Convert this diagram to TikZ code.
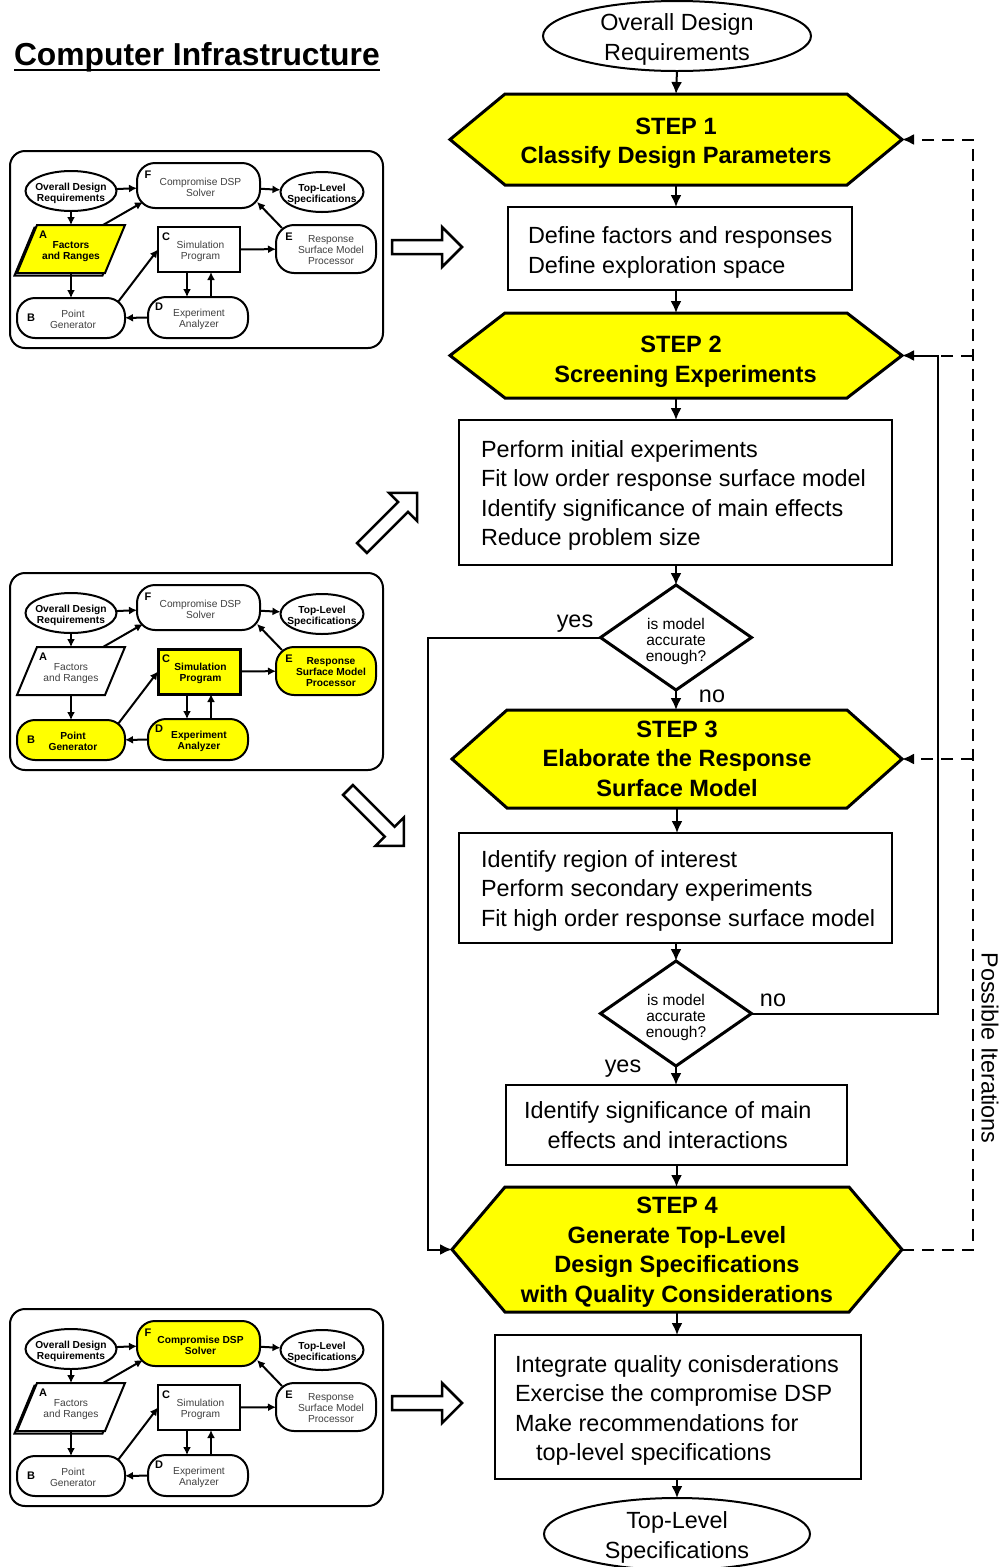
\documentclass[tikz,border=0pt]{standalone}
\usepackage{fontspec}
\setmainfont{Liberation Sans}
\usetikzlibrary{arrows.meta,calc,backgrounds}
\pgfdeclarelayer{paper}
\pgfsetlayers{paper,background,main}

\definecolor{stepyellow}{RGB}{255,255,0}

% font sizes (1pt = one unit of the drawing grid)
\newcommand\ftbody{\fontsize{23.4}{29.5}\selectfont}
\newcommand\fthex{\fontsize{23.6}{29.5}\selectfont\bfseries}
\newcommand\ftdia{\fontsize{15.5}{16}\selectfont}
\newcommand\ftmini{\fontsize{10.2}{11}\selectfont}
\newcommand\ftlbl{\fontsize{11}{11}\selectfont\bfseries}
\newcommand\fttitle{\fontsize{31.8}{36}\selectfont\bfseries}

% centred lines, lowered by #1 without changing the box extent
\newcommand\ctext[2]{\raisebox{-#1pt}[\height][\depth]{\begin{tabular}{@{}c@{}}#2\end{tabular}}}
% left-aligned lines in a box of width #1 with left pad #2, lowered by #3
\newcommand\ltext[4]{\makebox[#1pt][l]{\hspace*{#2pt}\raisebox{-#3pt}[\height][\depth]{\begin{tabular}{@{}l@{}}#4\end{tabular}}}}

% outline shapes drawn behind the named nodes
\newcommand\hexshape[2]{\draw[hexline] (#1.west) -- ($(#1.north west)+(#2,0)$) -- ($(#1.north east)+(-#2,0)$) -- (#1.east) -- ($(#1.south east)+(-#2,0)$) -- ($(#1.south west)+(#2,0)$) -- cycle;}
\newcommand\diashape[1]{\draw[dialine] (#1.west) -- (#1.north) -- (#1.east) -- (#1.south) -- cycle;}

% hollow block arrow: x, y of the tail centre, angle, length
\newcommand\hollowarrow[4]{\draw[hollow, shift={(#1,#2)}, rotate=#3] (0,-7) -- ({#4-20},-7) -- ({#4-20},-20) -- (#4,0) -- ({#4-20},20) -- ({#4-20},7) -- (0,7) -- cycle;}

% small infrastructure diagram: top y, name prefix, A text, A outline, B, C, D, E, F
\newcommand\infra[9]{%
  \draw[mframe] (10,#1) rectangle (383,{#1+197});
  \node[mnode,mbold,minimum width=91pt,minimum height=40pt] (#2odr) at (71,{#1+40}) {\ctext{2.5}{Overall Design\\Requirements}};
  \node[mround,#9,minimum width=123pt,minimum height=45pt] (#2F) at (198.5,{#1+34.5}) {\hspace{4pt}\ctext{3}{Compromise DSP\\Solver}};
  \node[mnode,mbold,minimum width=83pt,minimum height=40pt] (#2tls) at (322,{#1+41}) {\ctext{2.5}{Top-Level\\Specifications}};
  \node[mnode,#3,minimum width=108pt,minimum height=48pt] (#2A) at (71,{#1+98}) {\ctext{2.5}{Factors\\and Ranges}};
  \node[mround,#5,minimum width=108pt,minimum height=40pt] (#2B) at (71,{#1+167}) {\hspace{4pt}\ctext{2.5}{Point\\Generator}};
  \node[mrect,#6,minimum width=82pt,minimum height=45pt] (#2C) at (199,{#1+98.5}) {\hspace{3pt}\ctext{2.5}{Simulation\\Program}};
  \node[mround,#7,minimum width=100pt,minimum height=41pt] (#2D) at (198,{#1+166.5}) {\hspace{2pt}\ctext{2.5}{Experiment\\Analyzer}};
  \node[mround,#8,minimum width=100pt,minimum height=48pt] (#2E) at (326,{#1+98}) {\hspace{10pt}\ctext{2}{Response\\Surface Model\\Processor}};
  \node[mlbl] (#2lA) at ($(#2A.north west)+(26,10)$) {A};
  \node[mlbl] (#2lB) at ($(#2B.north west)+(14,20)$) {B};
  \node[mlbl] (#2lC) at ($(#2C.north west)+(8,10)$) {C};
  \node[mlbl] (#2lD) at ($(#2D.north west)+(11,10)$) {D};
  \node[mlbl] (#2lE) at ($(#2E.north west)+(13,12)$) {E};
  \node[mlbl] (#2lF) at ($(#2F.north west)+(11,12)$) {F};
  \begin{pgfonlayer}{background}
    \draw[mline,fill=white] (#2odr.center) ellipse [x radius=45.5pt, y radius=20pt];
    \draw[mline,fill=white] (#2tls.center) ellipse [x radius=41.5pt, y radius=20pt];
    \draw[mline,#4] (#2A.south west) -- ($(#2A.north west)+(20,0)$) -- (#2A.north east) -- ($(#2A.south east)+(-20,0)$) -- cycle;
  \end{pgfonlayer}
  \draw[marr] (#2odr) -- (#2F);
  \draw[marr] (#2F) -- (#2tls);
  \draw[marr] (#2odr.south) -- (#2A.north);
  \draw[marr] ($(#2A.north)+(32,0)$) -- ($(#2F.south west)+(6,-6)$);
  \draw[marr] (#2A.south) -- (#2B.north);
  \draw[marr] ($(#2B.north east)+(-7,4)$) -- (#2C.west);
  \draw[marr] (#2C) -- (#2E);
  \draw[marr] ($(#2E.north west)+(6,3)$) -- ($(#2F.south east)+(-3,-6)$);
  \draw[marr] ($(#2C.south)+(-12,0)$) -- ($(#2D.north)+(-11,0)$);
  \draw[marr] ($(#2D.north)+(13,0)$) -- ($(#2C.south)+(12,0)$);
  \draw[marr] (#2D) -- (#2B);
}

\begin{document}
\begin{tikzpicture}[x=1pt, y=-1pt,
  every node/.style={inner sep=0pt, outer sep=0pt},
  arr/.style={line width=2pt, -{Latex[length=12pt,width=11pt]}},
  dline/.style={line width=2pt, dash pattern=on 12pt off 8pt},
  darr/.style={dline, -{Latex[length=12pt,width=11pt]}},
  hexnode/.style={font=\fthex},
  hexline/.style={draw, line width=3pt, fill=stepyellow, line join=miter},
  stepbox/.style={draw, line width=2pt, fill=white, font=\ftbody},
  ovalnode/.style={font=\ftbody},
  ovalline/.style={draw, line width=2pt, fill=white},
  dianode/.style={font=\ftdia},
  dialine/.style={draw, line width=3pt, fill=white, line join=miter},
  tag/.style={font=\ftbody},
  hollow/.style={draw, line width=2.5pt, fill=white, line join=miter},
  mframe/.style={draw, line width=2pt, rounded corners=15pt},
  mline/.style={draw, line width=2pt},
  mnode/.style={font=\ftmini, text=black!75},
  mbold/.style={font=\ftmini\bfseries, text=black},
  mhl/.style={fill=stepyellow, font=\ftmini\bfseries, text=black},
  mpl/.style={fill=white},
  mround/.style={mnode, draw, line width=2pt, rounded corners=18pt},
  mrect/.style={mnode, draw, line width=2pt},
  mlbl/.style={font=\ftlbl},
  marr/.style={line width=2pt, -{Latex[length=8pt,width=8pt]}},
  stack/.style={preaction={draw, line width=2pt, fill=white, transform canvas={shift={(-2.5pt,-2.5pt)}}}},
]
\useasboundingbox (0,0) rectangle (1005,1567);
\begin{pgfonlayer}{paper}
  \fill[white] (0,0) rectangle (1005,1567);
\end{pgfonlayer}

% ---------- title ----------
\node[font=\fttitle, anchor=base west] (title) at (14,65) {Computer Infrastructure};
\draw[line width=2.5pt] ($(title.base west)+(0,5)$) -- ($(title.base east)+(0,5)$);

% ---------- main flow ----------
\node[ovalnode, minimum width=268pt, minimum height=70pt] (odr) at (677,36)
  {\ctext{3.5}{Overall Design\\Requirements}};
\node[hexnode, minimum width=452pt, minimum height=91pt] (s1) at (676,139.5)
  {\ctext{3.5}{STEP 1\\Classify Design Parameters}};
\node[stepbox, minimum width=344pt, minimum height=83pt] (b1) at (680,248.5)
  {\ltext{344}{20}{4}{Define factors and responses\\Define exploration space}};
\node[hexnode, minimum width=452pt, minimum height=85pt] (s2) at (676,355.5)
  {\ctext{6}{\hspace*{10pt}STEP 2\\\hspace*{19pt}Screening Experiments}};
\node[stepbox, minimum width=433pt, minimum height=145pt] (b2) at (675.5,492.5)
  {\ltext{433}{22}{3}{Perform initial experiments\\Fit low order response surface model\\Identify significance of main effects\\Reduce problem size}};
\node[dianode, minimum width=151pt, minimum height=105pt] (d1) at (676,637.5)
  {\ctext{4.5}{is model\\accurate\\enough?}};
\node[hexnode, minimum width=450pt, minimum height=98pt] (s3) at (677,759)
  {\ctext{2}{STEP 3\\Elaborate the Response\\Surface Model}};
\node[stepbox, minimum width=433pt, minimum height=110pt] (b3) at (675.5,888)
  {\ltext{433}{22}{3}{Identify region of interest\\Perform secondary experiments\\Fit high order response surface model}};
\node[dianode, minimum width=151pt, minimum height=105pt] (d2) at (676,1013.5)
  {\ctext{4.5}{is model\\accurate\\enough?}};
\node[stepbox, minimum width=341pt, minimum height=80pt] (b4) at (676.5,1125)
  {\makebox[341pt][l]{\hspace*{18pt}\ctext{2.5}{Identify significance of main\\effects and interactions}}};
\node[hexnode, minimum width=450pt, minimum height=125pt] (s4) at (677,1249.5)
  {\ctext{2.5}{STEP 4\\Generate Top-Level\\Design Specifications\\with Quality Considerations}};
\node[stepbox, minimum width=366pt, minimum height=144pt] (b5) at (678,1407)
  {\ltext{366}{20}{3.5}{Integrate quality conisderations\\Exercise the compromise DSP\\Make recommendations for\\\hspace*{21pt}top-level specifications}};
\node[ovalnode, minimum width=266pt, minimum height=72pt] (tls) at (677,1534)
  {\ctext{3.5}{Top-Level\\Specifications}};

\begin{pgfonlayer}{background}
  \draw[ovalline] (odr.center) ellipse [x radius=134pt, y radius=35pt];
  \draw[ovalline] (tls.center) ellipse [x radius=133pt, y radius=36pt];
  \hexshape{s1}{55}
  \hexshape{s2}{55}
  \hexshape{s3}{55}
  \hexshape{s4}{53}
  \diashape{d1}
  \diashape{d2}
\end{pgfonlayer}

% straight connectors
\draw[arr] (odr.south) -- (s1.north);
\draw[arr] (s1.south) -- (s1.south |- b1.north);
\draw[arr] (s2.north |- b1.south) -- (s2.north);
\draw[arr] (s2.south) -- (s2.south |- b2.north);
\draw[arr] (d1.north |- b2.south) -- (d1.north);
\draw[arr] (d1.south) -- (d1.south |- s3.north);
\draw[arr] (s3.south) -- (s3.south |- b3.north);
\draw[arr] (d2.north |- b3.south) -- (d2.north);
\draw[arr] (d2.south) -- (d2.south |- b4.north);
\draw[arr] (b4.south) -- (b4.south |- s4.north);
\draw[arr] (s4.south) -- (s4.south |- b5.north);
\draw[arr] (tls.north |- b5.south) -- (tls.north);

% decision branches
\coordinate (lrail) at (428,638);
\coordinate (rrail) at (938,355);
\draw[arr] (d1.west) -- (d1.west -| lrail) -- (s4.west -| lrail) -- (s4.west);
\draw[arr] (d2.east) -- (d2.east -| rrail) -- (s2.east -| rrail) -- (s2.east);
\node[tag] (yes1) at (575,624) {yes};
\node[tag] (no1) at (712,696) {no};
\node[tag] (no2) at (773,1000) {no};
\node[tag] (yes2) at (623,1069) {yes};

% iteration loop
\coordinate (drail) at (973,139);
\draw[darr] (s4.east) -- (s4.east -| drail) -- (s1.east -| drail) -- (s1.east);
\draw[dline] (s2.east -| drail) -- (s2.east -| rrail);
\draw[darr] (s3.east -| drail) -- (s3.east);
\node[tag, rotate=-90] (iter) at (990,1048) {Possible Iterations};

% ---------- infrastructure diagrams ----------
\infra{151}{p}{mbold}{fill=stepyellow,stack}{mpl}{mpl}{mpl}{mpl}{mpl}
\infra{573}{q}{}{fill=white}{mhl}{mhl,line width=3pt}{mhl}{mhl}{mpl}
\infra{1309}{r}{}{fill=white,stack}{mpl}{mpl}{mpl}{mpl}{mhl}

% hollow arrows towards the flow
\hollowarrow{392}{247}{0}{70}
\hollowarrow{392}{1403}{0}{70}
\hollowarrow{362}{548}{45}{78}
\hollowarrow{348}{790}{-45}{79}
\end{tikzpicture}
\end{document}
